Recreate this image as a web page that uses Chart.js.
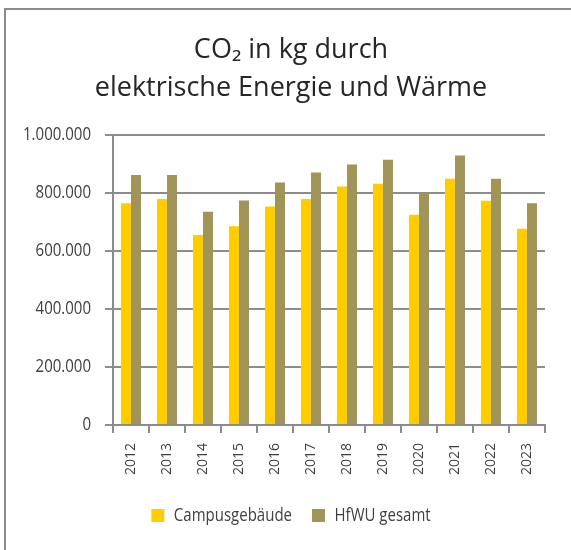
<!DOCTYPE html>
<html><head><meta charset="utf-8">
<script src="https://cdn.jsdelivr.net/npm/chart.js@4.4.1/dist/chart.umd.min.js"></script>
<style>
html,body{margin:0;padding:0;background:#fff;overflow:hidden;}
#wrap{position:relative;width:571px;height:550px;}
#frame{position:absolute;left:4px;top:8px;width:600px;height:600px;border:2px solid #8c8c8c;box-sizing:border-box;pointer-events:none;}
canvas{position:absolute;left:0;top:0;}
</style></head>
<body>
<div id="wrap"><canvas id="c" width="571" height="550"></canvas><div id="frame"></div></div>
<script>
const years = ['2012','2013','2014','2015','2016','2017','2018','2019','2020','2021','2022','2023'];
const campus = [765000, 779000, 655000, 685000, 753000, 779000, 822000, 832000, 725000, 849000, 773000, 677000];
const hfwu   = [862000, 862000, 735000, 774000, 836000, 871000, 898000, 915000, 801000, 929000, 849000, 765000];
const seriesNames = ['Campusgebäude', 'HfWU gesamt'];
const titleLines = ['CO₂ in kg durch', 'elektrische Energie und Wärme'];
const yMax = 1000000, yStep = 200000;

// condensed rendering of text whose font names the marker family (horizontal squeeze)
const K = 0.79;
const proto = CanvasRenderingContext2D.prototype;
const oFill = proto.fillText, oMeasure = proto.measureText;
const isCond = ctx => ctx.font.indexOf('CondFace') >= 0;
proto.fillText = function(t, x, y, mw) {
  if (isCond(this)) { this.save(); this.translate(x, y); this.scale(K, 1); oFill.call(this, t, 0, 0); this.restore(); }
  else if (mw !== undefined) oFill.call(this, t, x, y, mw); else oFill.call(this, t, x, y);
};
proto.measureText = function(t) {
  const m = oMeasure.call(this, t);
  if (!isCond(this)) return m;
  return {width: m.width * K, actualBoundingBoxAscent: m.actualBoundingBoxAscent, actualBoundingBoxDescent: m.actualBoundingBoxDescent,
    actualBoundingBoxLeft: m.actualBoundingBoxLeft * K, actualBoundingBoxRight: m.actualBoundingBoxRight * K,
    fontBoundingBoxAscent: m.fontBoundingBoxAscent, fontBoundingBoxDescent: m.fontBoundingBoxDescent};
};

const cond = "CondFace, 'Open Sans', sans-serif";
const fmt = v => String(v).replace(/\B(?=(\d{3})+(?!\d))/g, '.');

new Chart(document.getElementById('c'), {
  type: 'bar',
  data: {
    labels: years,
    datasets: [
      {label: seriesNames[0], data: campus, backgroundColor: '#FFCC00', categoryPercentage: 0.556, barPercentage: 1.0},
      {label: seriesNames[1], data: hfwu, backgroundColor: '#A09457', categoryPercentage: 0.556, barPercentage: 1.0}
    ]
  },
  options: {
    responsive: false,
    animation: false,
    layout: {padding: {left: 37, right: 26, top: 0, bottom: 15}},
    plugins: {
      title: {
        display: true, text: titleLines, color: '#262626',
        font: {family: "'Open Sans', sans-serif", size: 27, weight: 'normal', lineHeight: 1.407},
        padding: {top: 31, bottom: 28}
      },
      legend: {
        position: 'bottom',
        labels: {
          boxWidth: 13, boxHeight: 13, padding: 20, color: '#404040',
          font: {family: cond, size: 19}
        }
      },
      tooltip: {enabled: false}
    },
    scales: {
      x: {
        grid: {display: true, drawOnChartArea: false, drawTicks: true, tickLength: 8, offset: true, color: '#8c8c8c', lineWidth: 2},
        border: {color: '#8c8c8c', width: 2},
        ticks: {maxRotation: 90, minRotation: 90, padding: 10, color: '#404040', font: {family: "'Open Sans', sans-serif", size: 14}},
        afterFit: s => { s.height = 61; }
      },
      y: {
        min: 0, max: yMax,
        grid: {color: '#8c8c8c', lineWidth: 2, tickLength: 8},
        border: {color: '#8c8c8c', width: 2},
        ticks: {stepSize: yStep, padding: 14, color: '#404040', font: {family: cond, size: 19}, callback: v => fmt(v)},
        afterFit: s => { s.width = 76; s._computeLabelArea = () => undefined; }
      }
    }
  }
});
</script>
</body></html>
